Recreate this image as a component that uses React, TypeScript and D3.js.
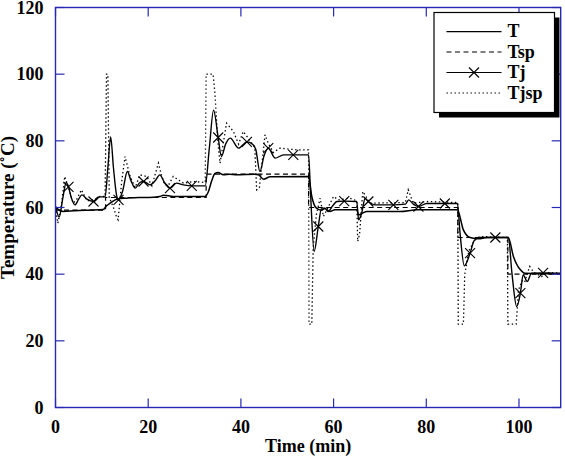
import React from 'react';
import * as d3 from 'd3';

const W = 565;
const H = 458;
const plot = { left: 55.5, right: 560.7, top: 7.5, bottom: 407.5 };

const xTicks = [0, 20, 40, 60, 80, 100];
const yTicks = [0, 20, 40, 60, 80, 100, 120];
const xDomain: [number, number] = [0, 109];
const yDomain: [number, number] = [0, 120];

// Reactor temperature T (time in min, °C)
const reactorTemp: [number, number][] = [
  [0, 60.2], [0.5, 59.5], [1.7, 58.8], [4, 59], [7, 59.2], [10.3, 59.4], [11.0, 60.5],
  [11.8, 61.3], [13.2, 62.5], [15.4, 62.8], [18, 63], [20, 63], [22.5, 63.3], [23.3, 63.7],
  [25.4, 63.3], [28, 63.3], [32.3, 63.3], [33.0, 64.8], [33.7, 68], [34.4, 70.2], [35.1, 70.5],
  [36.2, 69.8], [37.6, 70], [39, 69.8], [43, 70], [43.8, 69.8], [44.9, 68.5], [46.3, 69.2],
  [54.6, 69.3], [55.3, 63.3], [56.3, 59.8], [57.4, 59.2], [58.1, 59.7], [59.2, 58.8],
  [60.3, 59.3], [65.0, 59.3], [65.4, 57.8], [66.1, 58.2], [67.2, 58.8], [74.4, 58.8],
  [78, 59.3], [86.7, 59.3], [88.0, 53.3], [89.45, 51], [91.3, 50.6], [93, 51], [97.7, 51],
  [98.8, 45.3], [100.3, 41.3], [101.3, 40.3], [109, 40.1],
];

// Reactor set point Tsp
const reactorSetpoint: [number, number][] = [
  [0, 59.2], [10.8, 63], [32.5, 70], [54.6, 60], [86.8, 51], [97.6, 40], [109, 40],
];

// Jacket temperature Tj
const jacketTemp: [number, number][] = [
  [0, 60.3], [0.8, 57.2], [1.6, 63], [2.3, 67.5], [2.8, 66.2], [3.4, 63], [4.2, 60.8],
  [5.0, 62.5], [5.7, 63.8], [6.8, 62.5], [8.2, 61.8], [9.6, 63.2], [10.7, 63.2], [11.3, 72],
  [11.9, 81.2], [12.5, 72], [13.2, 63.5], [13.6, 62.3], [14.5, 65], [15.5, 70.8], [16.3, 68],
  [17.2, 65.8], [18.2, 67.5], [19.0, 67.8], [20.4, 66.8], [21.5, 68], [22.5, 69.8],
  [23.5, 67.5], [24.7, 65.8], [26.1, 67.3], [27.6, 66.8], [29.4, 66.5], [32.3, 66.5],
  [33.2, 78], [34.1, 89.2], [35.1, 81], [35.8, 75.3], [36.7, 79], [37.7, 80.8], [39.5, 77.8],
  [41.3, 79.7], [42.5, 79], [43.2, 77.5], [44.1, 70.8], [45.0, 75.5], [45.9, 77.8],
  [47.4, 74.8], [49.2, 75.8], [51.3, 75.8], [54.6, 75.8], [55.0, 65], [55.8, 46.8],
  [56.7, 54.3], [57.4, 59.8], [58.1, 59.8], [58.8, 58.8], [59.8, 60.5], [60.7, 61.8],
  [62.3, 61.9], [65.0, 61.8], [65.4, 56.3], [66.0, 58], [66.8, 62.7], [67.5, 61.8],
  [69.0, 60.8], [72.9, 60.8], [75.5, 61], [76.2, 62.3], [77.2, 61], [78.3, 60.3],
  [80.1, 61.2], [84.0, 61.2], [86.7, 61.2], [87.3, 52], [88.2, 42.5], [89.45, 46.3],
  [90.3, 50], [91.3, 51], [94.9, 51], [97.7, 51], [98.5, 40], [99.5, 30.3], [100.3, 34.3],
  [100.9, 39.8], [101.8, 37.8], [102.7, 40.3], [105.2, 40.4], [108.1, 40.3], [109, 40.3],
];

// Cross markers placed along Tj
const jacketMarkers: [number, number][] = [
  [2.8, 66.2], [8.2, 61.8], [13.6, 62.3], [19.0, 67.8], [24.7, 65.8], [29.4, 66.5],
  [35.1, 81], [41.3, 79.7], [45.9, 77.8], [51.3, 75.8], [56.7, 54.3], [62.3, 61.9],
  [67.5, 61.8], [72.9, 60.8], [78.3, 60.3], [84.0, 61.2], [89.45, 46.3], [94.9, 51],
  [100.3, 34.3], [105.2, 40.4],
];

// Jacket set point Tjsp
const jacketSetpoint: [number, number][] = [
  [0, 60], [0.5, 55.3], [1.2, 60], [2.0, 69.3], [2.8, 66], [3.8, 61.3], [4.6, 62.5],
  [5.6, 65.3], [6.8, 62], [8.2, 62.3], [9.6, 63.3], [10.7, 63.3], [11.0, 100], [11.3, 100],
  [11.6, 63], [12.5, 60], [13.2, 57], [13.5, 56.3], [14.3, 68], [15.0, 75.3], [16.1, 69.3],
  [17.2, 66], [18.2, 69.8], [19.7, 69.3], [20.8, 66.5], [22.2, 73.3], [22.8, 70], [23.5, 67],
  [24.3, 66.5], [25.4, 69.3], [27.6, 67.3], [29.8, 67.8], [32.3, 67.5], [32.5, 100],
  [34.0, 100], [34.4, 94.3], [35.0, 80], [35.5, 73.3], [36.9, 85.3], [38.4, 82.8], [39.5, 79],
  [40.5, 82.8], [41.6, 80.8], [43.0, 78], [43.4, 65.3], [44.0, 66], [45.2, 81.8], [45.9, 79.3],
  [47.0, 76.5], [48.4, 77.8], [52.0, 77.3], [54.6, 77.3], [54.7, 25], [55.3, 25], [55.6, 48],
  [56.3, 58], [57.1, 62.8], [57.8, 57.3], [58.8, 60], [60.0, 63.3], [61.0, 62.3], [63.5, 62.8],
  [65.0, 62], [65.2, 49.8], [65.6, 52], [66.3, 64.8], [67.9, 61.3], [75.5, 61.5], [76.1, 65.3],
  [77.2, 61.3], [80.1, 61.8], [86.8, 61.5], [86.9, 25], [88.0, 25], [88.3, 40], [89.2, 47],
  [90.3, 50], [91.6, 51.3], [97.5, 51], [97.6, 25], [99.4, 25], [99.9, 35.3], [100.7, 38],
  [101.2, 37.5], [102.3, 42.3], [103.2, 40.5], [104.9, 39.3], [106, 40.5], [109, 40.3],
];

const legendLabels = ['T', 'Tsp', 'Tj', 'Tjsp'];

const AXIS = '#2828b4';
const FONT = '"Liberation Serif", "Times New Roman", serif';

const cross = (s: number) => `M${-s},${-s}L${s},${s}M${-s},${s}L${s},${-s}`;

export default function App() {
  const x = d3.scaleLinear().domain(xDomain).range([plot.left, plot.right]);
  const y = d3.scaleLinear().domain(yDomain).range([plot.bottom, plot.top]);

  const lineSmooth = d3.line<[number, number]>().x((d) => x(d[0])).y((d) => y(d[1])).curve(d3.curveMonotoneX);
  const lineStep = d3.line<[number, number]>().x((d) => x(d[0])).y((d) => y(d[1])).curve(d3.curveStepAfter);
  const lineLinear = d3.line<[number, number]>().x((d) => x(d[0])).y((d) => y(d[1]));

  const tick = 9;
  const lg = { x0: 434, y0: 12.5, x1: 554.5, y1: 112.5, lx0: 446.5, lx1: 501.5, tx: 507.5, rows: [31.7, 52, 72.5, 93] };

  return (
    <svg width={W} height={H} style={{ position: 'absolute', left: 0, top: 0, background: '#fff' }} fontFamily={FONT}>
      <defs>
        <clipPath id="plotArea">
          <rect x={plot.left} y={plot.top} width={plot.right - plot.left} height={plot.bottom - plot.top} />
        </clipPath>
      </defs>
      <rect width={W} height={H} fill="#fff" />

      {/* data */}
      <g clipPath="url(#plotArea)" fill="none" stroke="#000">
        <path d={lineLinear(jacketSetpoint) || ''} strokeWidth={1.3} strokeDasharray="1.4 2.6" />
        <path d={lineStep(reactorSetpoint) || ''} strokeWidth={1.2} strokeDasharray="5 3.5" />
        <path d={lineSmooth(reactorTemp) || ''} strokeWidth={1.5} />
        <path d={lineSmooth(jacketTemp) || ''} strokeWidth={1.4} />
        {jacketMarkers.map((d, i) => (
          <path key={i} d={cross(5)} transform={`translate(${x(d[0])},${y(d[1])})`} strokeWidth={1.1} />
        ))}
      </g>

      {/* frame and ticks */}
      <g stroke={AXIS} fill="none">
        <rect x={plot.left} y={plot.top} width={plot.right - plot.left} height={plot.bottom - plot.top} strokeWidth={1.4} />
        {xTicks.map((t) => (
          <g key={'x' + t}>
            <line x1={x(t)} x2={x(t)} y1={plot.bottom} y2={plot.bottom - tick} strokeWidth={1.2} />
            <line x1={x(t)} x2={x(t)} y1={plot.top} y2={plot.top + tick} strokeWidth={1.2} />
          </g>
        ))}
        {yTicks.map((t) => (
          <g key={'y' + t}>
            <line x1={plot.left} x2={plot.left + tick} y1={y(t)} y2={y(t)} strokeWidth={1.2} />
            <line x1={plot.right} x2={plot.right - tick} y1={y(t)} y2={y(t)} strokeWidth={1.2} />
          </g>
        ))}
      </g>

      {/* tick labels */}
      <g fontSize={18} fontWeight="bold" fill="#000">
        {xTicks.map((t) => (
          <text key={'xl' + t} x={x(t)} y={433} textAnchor="middle">{t}</text>
        ))}
        {yTicks.map((t) => (
          <text key={'yl' + t} x={43.5} y={y(t) + 6} textAnchor="end">{t}</text>
        ))}
      </g>

      {/* axis titles */}
      <text x={(plot.left + plot.right) / 2} y={452} textAnchor="middle" fontSize={18} fontWeight="bold">Time (min)</text>
      <text transform={`translate(13.5,${(plot.top + plot.bottom) / 2}) rotate(-90)`} textAnchor="middle" fontSize={19} fontWeight="bold">Temperature (˚C)</text>

      {/* legend */}
      <g>
        <rect x={lg.x0 + 5} y={lg.y0 + 5} width={lg.x1 - lg.x0} height={lg.y1 - lg.y0} fill="#000" />
        <rect x={lg.x0} y={lg.y0} width={lg.x1 - lg.x0} height={lg.y1 - lg.y0} fill="#fff" stroke="#000" strokeWidth={1.2} />
        {legendLabels.map((name, i) => {
          const yy = lg.rows[i];
          const dash = i === 1 ? '5 3.5' : i === 3 ? '1.4 2.6' : undefined;
          return (
            <g key={name}>
              <line x1={lg.lx0} x2={lg.lx1} y1={yy} y2={yy} stroke="#000" strokeWidth={1.2} strokeDasharray={dash} />
              {i === 2 && (
                <path d={cross(5)} transform={`translate(${(lg.lx0 + lg.lx1) / 2},${yy})`} stroke="#000" strokeWidth={1.1} fill="none" />
              )}
              <text x={lg.tx} y={yy + 5.5} fontSize={18} fontWeight="bold">{name}</text>
            </g>
          );
        })}
      </g>
    </svg>
  );
}
